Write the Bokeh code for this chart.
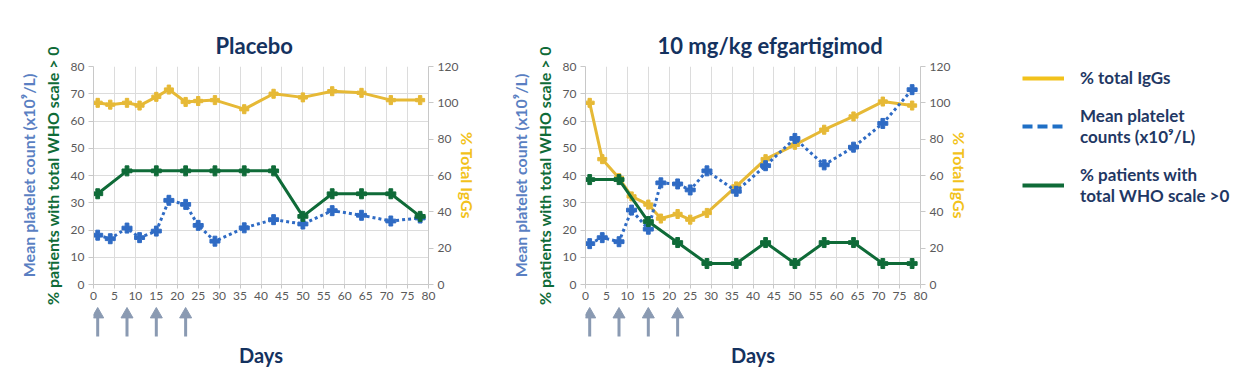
import math
from bokeh.plotting import figure
from bokeh.models import (Range1d, LinearAxis, FixedTicker, Legend, LegendItem)
from bokeh.layouts import row, column
from bokeh.embed import file_html
from bokeh.resources import INLINE

# ---------------- data ----------------
days = [1, 4, 8, 11, 15, 18, 22, 25, 29, 36, 43, 50, 57, 64, 71, 78]
who_days = [1, 8, 15, 22, 29, 36, 43, 50, 57, 64, 71, 78]
dose_days = [1, 8, 15, 22]

placebo_igg = [100, 99, 100, 98.5, 103.3, 107.3, 100.5, 101, 101.5, 96.5,
               105, 103, 106.4, 105.5, 101.5, 101.5]
placebo_platelets = [18.1, 16.8, 20.7, 17.2, 19.6, 30.9, 29.4, 21.7, 15.9,
                     20.8, 23.8, 22.2, 27.1, 25.4, 23.3, 24.4]
placebo_who = [33.3, 41.7, 41.7, 41.7, 41.7, 41.7, 41.7, 25.0, 33.3, 33.3,
               33.3, 25.0]

efg_igg = [100, 69, 58.6, 48.5, 44, 36.3, 38.8, 35.7, 39.4, 54, 69, 76.9,
           85.2, 92.5, 100.7, 98.5]
efg_platelets = [15.0, 17.2, 15.7, 27.3, 20.3, 37.3, 36.9, 34.7, 41.7, 34.2,
                 43.6, 53.6, 43.9, 50.4, 59.1, 71.5]
efg_who = [38.5, 38.5, 23.1, 15.4, 7.7, 7.7, 15.4, 7.7, 15.4, 15.4, 7.7, 7.7]

x_ticks = list(range(0, 81, 5))
left_ticks = list(range(0, 81, 10))
right_ticks = list(range(0, 121, 20))

titles = ["Placebo", "10 mg/kg efgartigimod"]
legend_labels = ["% total IgGs", "Mean platelet\ncounts (x10\u2079/L)",
                 "% patients with\ntotal WHO scale >0"]

# ---------------- styles ----------------
YELLOW = "#E6B936"
YELLOW_TXT = "#F2C21B"
BLUE = "#2F6BC4"
BLUE_TXT = "#5A7FC2"
GREEN = "#0F6B38"
NAVY = "#14325F"
GRID = "#DCDCDC"
AXIS = "#C8C8C8"
TICK_TXT = "#5A5A5A"
ARROW = "#8A9AB2"
FONT = "Lato"

MAIN_H = 306
ARR_H = 72
FRAME_TOP = 66
FRAME_H = 218


def style_label(ax, color, size="16px"):
    ax.axis_label_text_font = FONT
    ax.axis_label_text_font_size = size
    ax.axis_label_text_font_style = "bold"
    ax.axis_label_text_color = color


def style_ticks(ax):
    ax.axis_line_color = AXIS
    ax.major_tick_line_color = AXIS
    ax.major_tick_in = 0
    ax.minor_tick_line_color = None
    ax.major_label_text_font = FONT
    ax.major_label_text_font_size = "12px"
    ax.major_label_text_color = TICK_TXT


def make_chart(title, igg, plate, who, width, left, title_offset):
    right = width - left - 335
    p = figure(width=width, height=MAIN_H, output_backend="svg",
               toolbar_location=None, x_range=Range1d(0, 80),
               y_range=Range1d(0, 80), min_border_left=left,
               min_border_right=right, min_border_top=FRAME_TOP,
               min_border_bottom=MAIN_H - FRAME_TOP - FRAME_H)
    p.outline_line_color = None
    p.extra_y_ranges = {"igg": Range1d(0, 120)}

    p.title.text = title
    p.title.align = "left"
    p.title.offset = title_offset
    p.title.text_font = FONT
    p.title.text_font_size = "22px"
    p.title.text_font_style = "bold"
    p.title.text_color = NAVY
    p.title.standoff = 15

    p.xgrid.ticker = FixedTicker(ticks=x_ticks)
    p.ygrid.ticker = FixedTicker(ticks=left_ticks)
    p.grid.grid_line_color = GRID

    xa = p.xaxis[0]
    xa.ticker = FixedTicker(ticks=x_ticks)
    style_ticks(xa)
    xa.major_tick_out = 4
    xa.major_label_standoff = 3

    ya = p.yaxis[0]
    ya.ticker = FixedTicker(ticks=left_ticks)
    ya.axis_label = "% patients with total WHO scale > 0"
    style_label(ya, GREEN)
    ya.axis_label_standoff = 6
    style_ticks(ya)
    ya.major_tick_out = 5
    ya.major_label_standoff = 4

    ya2 = LinearAxis(ticker=FixedTicker(ticks=[]),
                     axis_label="Mean platelet count (x10\u2079/L)")
    style_label(ya2, BLUE_TXT)
    ya2.axis_label_standoff = 2
    ya2.axis_line_color = None
    ya2.major_tick_line_color = None
    ya2.minor_tick_line_color = None
    p.add_layout(ya2, "left")

    ra = LinearAxis(y_range_name="igg", ticker=FixedTicker(ticks=right_ticks),
                    axis_label="% Total IgGs")
    style_label(ra, YELLOW_TXT)
    ra.axis_label_standoff = -3
    style_ticks(ra)
    ra.major_tick_out = 5
    ra.major_label_standoff = 4
    p.add_layout(ra, "right")

    r_igg = p.line(days, igg, y_range_name="igg", color=YELLOW, line_width=3)
    p.scatter(days, igg, y_range_name="igg", marker="plus", size=9,
              color=YELLOW)
    r_plt = p.line(days, plate, color=BLUE, line_width=3, line_dash="3 3")
    p.scatter(days, plate, marker="plus", size=10, color=BLUE)
    r_who = p.line(who_days, who, color=GREEN, line_width=3)
    p.scatter(who_days, who, marker="plus", size=10, color=GREEN)

    # dosing arrows strip (1 y-unit == 1 px)
    arr_frame = ARR_H - 40
    a = figure(width=width, height=ARR_H, output_backend="svg",
               toolbar_location=None, x_range=p.x_range,
               y_range=Range1d(0, arr_frame), min_border_left=left,
               min_border_right=right, min_border_top=0,
               min_border_bottom=40)
    a.outline_line_color = None
    a.grid.visible = False
    a.yaxis.visible = False
    ax = a.xaxis[0]
    ax.ticker = FixedTicker(ticks=[])
    ax.axis_line_color = None
    ax.major_tick_line_color = None
    ax.minor_tick_line_color = None
    ax.major_tick_out = 0
    ax.major_label_standoff = 0
    ax.axis_label = "Days"
    style_label(ax, NAVY, "20px")
    ax.axis_label_standoff = 4

    head = 12
    h = head / 2 * math.sqrt(3)
    tip = arr_frame - 1
    n = len(dose_days)
    a.segment(x0=dose_days, y0=[2] * n, x1=dose_days, y1=[tip - h + 1] * n,
              line_color=ARROW, line_width=3)
    a.scatter(dose_days, [tip - 2 * h / 3] * n, marker="triangle", size=head,
              fill_color=ARROW, line_color=ARROW, line_width=1)
    return column(p, a), (r_igg, r_plt, r_who)


c1, _ = make_chart(titles[0], placebo_igg, placebo_platelets, placebo_who,
                   500, 93, 122)
c2, _ = make_chart(titles[1], efg_igg, efg_platelets, efg_who,
                   500, 85, 72)

# legend panel
p3 = figure(width=250, height=MAIN_H + ARR_H, output_backend="svg",
            toolbar_location=None, x_range=Range1d(0, 1),
            y_range=Range1d(0, 1), min_border=0)
p3.axis.visible = False
p3.grid.visible = False
p3.outline_line_color = None
nan = [float("nan")]
d1 = p3.line(nan, nan, color="#F2C21B", line_width=4)
d2 = p3.line(nan, nan, color="#1F6FC5", line_width=4, line_dash="10 5")
d3 = p3.line(nan, nan, color=GREEN, line_width=4)
leg = Legend(items=[LegendItem(label=legend_labels[0], renderers=[d1]),
                    LegendItem(label=legend_labels[1], renderers=[d2]),
                    LegendItem(label=legend_labels[2], renderers=[d3])],
             location="top_left")
leg.border_line_color = None
leg.background_fill_alpha = 0
leg.margin = 0
leg.padding = 0
leg.glyph_width = 42
leg.glyph_height = 20
leg.label_standoff = 16
leg.spacing = 17
leg.label_text_font = FONT
leg.label_text_font_size = "17px"
leg.label_text_font_style = "bold"
leg.label_text_line_height = 1.35
leg.label_text_color = "#1F3864"
p3.add_layout(leg)
p3.min_border_left = 22
p3.min_border_top = 67

layout = row(c1, c2, p3)
open("out.html", "w").write(file_html(layout, INLINE))
